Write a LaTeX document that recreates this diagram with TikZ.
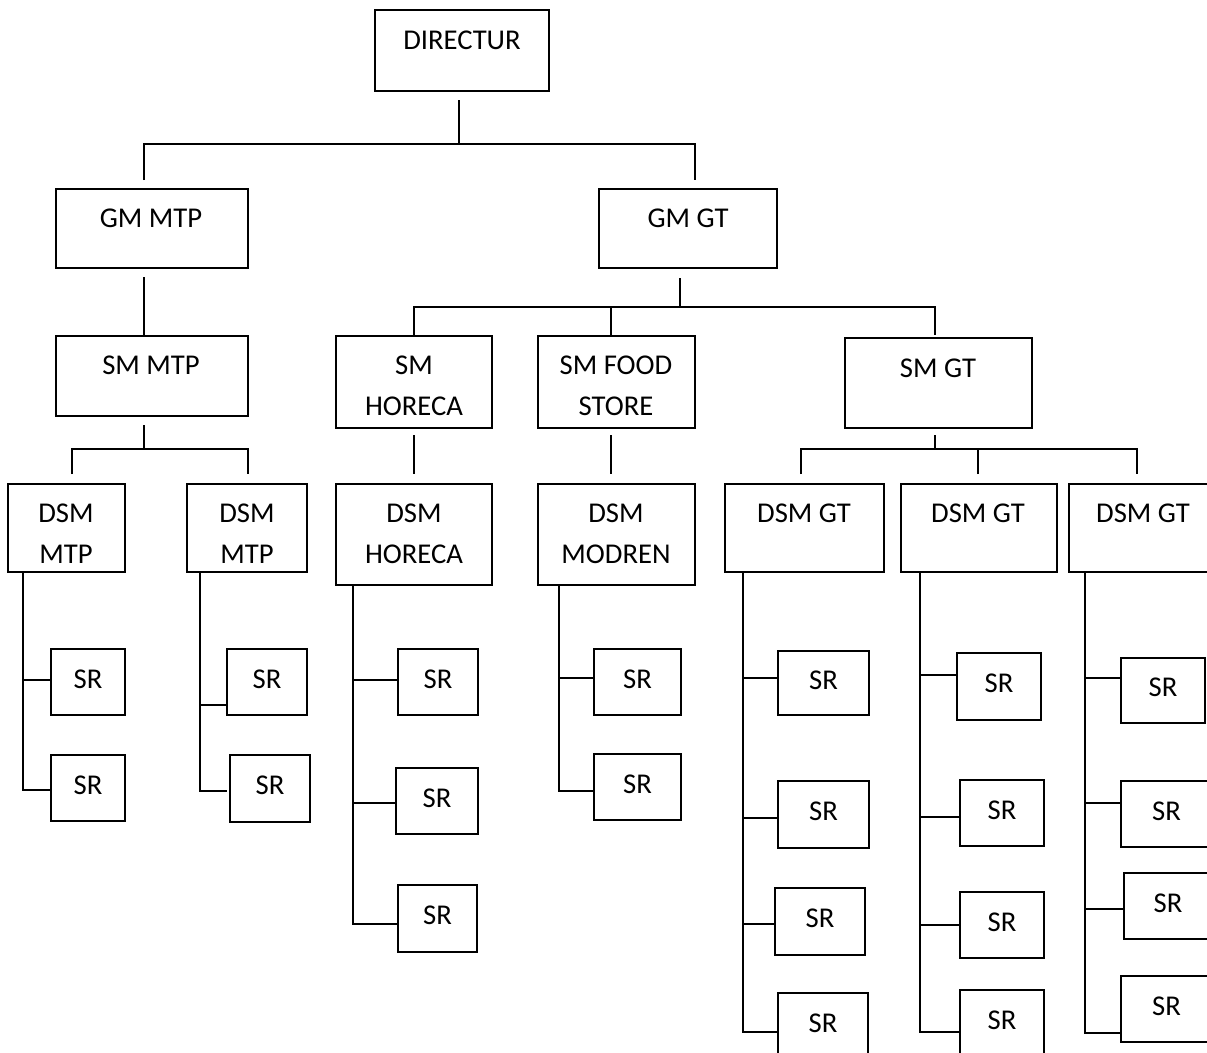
\documentclass[tikz,border=0pt]{standalone}
\usepackage{fontspec}
\setmainfont{Carlito}
\usetikzlibrary{calc}
\newcommand\orgbox[5]{\node[box, minimum width={(#4-#2)*0.75pt}, minimum height={(#5-#3)*0.75pt}] (#1) at ({(#2+#4)/2},{(#3+#5)/2}) {};}
\newcommand\srbox[5]{\orgbox{#1}{#2}{#3}{#4}{#5}\node[lbl] (#1-t) at ($(#1.center)+(0,-3)$) {SR};}
\begin{document}
\begin{tikzpicture}[x=0.75pt,y=-0.75pt,
  line width=1.6pt, line join=miter,
  box/.style={draw, line width=1.6pt, inner sep=0pt, outer sep=0pt, fill=white},
  lbl/.style={inner sep=0pt, font=\fontsize{21.5pt}{31pt}\selectfont, align=center}]
\fill[white] (0,0) rectangle (1207,1053);
\clip (0,0) rectangle (1207,1053);

% ---- boxes ----
\orgbox{dir}{375}{10}{549}{91}
\orgbox{gmmtp}{56}{189}{248}{268}
\orgbox{gmgt}{599}{189}{777}{268}
\orgbox{smmtp}{56}{336}{248}{416}
\orgbox{smhor}{336}{336}{492}{428}
\orgbox{smfood}{538}{336}{695}{428}
\orgbox{smgt}{845}{338}{1032}{428}
\orgbox{dsma}{8}{484}{125}{572}
\orgbox{dsmb}{187}{484}{307}{572}
\orgbox{dsmhor}{336}{484}{492}{585}
\orgbox{dsmmod}{538}{484}{695}{585}
\orgbox{dsmgta}{725}{484}{884}{572}
\orgbox{dsmgtb}{901}{484}{1057}{572}
\orgbox{dsmgtc}{1069}{484}{1217}{572}

% ---- labels ----
\node[lbl] (dir-t) at (462,40) {DIRECTUR};
\node[lbl] (gmmtp-t) at (151,218) {GM MTP};
\node[lbl] (gmgt-t) at (688,218) {GM GT};
\node[lbl] (smmtp-t) at (151,365) {SM MTP};
\node[lbl] (smhor-t) at (414,386) {SM\\HORECA};
\node[lbl] (smfood-t) at (616,386) {SM FOOD\\STORE};
\node[lbl] (smgt-t) at (938,368) {SM GT};
\node[lbl] (dsma-t) at (66,533.5) {DSM\\MTP};
\node[lbl] (dsmb-t) at (247,533.5) {DSM\\MTP};
\node[lbl] (dsmhor-t) at (414,534) {DSM\\HORECA};
\node[lbl] (dsmmod-t) at (616,534) {DSM\\MODREN};
\node[lbl] (dsmgta-t) at (804,513) {DSM GT};
\node[lbl] (dsmgtb-t) at (978,513) {DSM GT};
\node[lbl] (dsmgtc-t) at (1143,513) {DSM GT};

% ---- SR boxes ----
\srbox{sraa}{51}{649}{125}{715}
\srbox{srab}{51}{755}{125}{821}
\srbox{srba}{227}{649}{307}{715}
\srbox{srbb}{230}{755}{310}{822}
\srbox{srha}{398}{649}{478}{715}
\srbox{srhb}{396}{768}{478}{834}
\srbox{srhc}{398}{885}{477}{952}
\srbox{srma}{594}{649}{681}{715}
\srbox{srmb}{594}{754}{681}{820}
\srbox{srga}{778}{651}{869}{715}
\srbox{srgb}{778}{781}{869}{848}
\srbox{srgc}{775}{888}{865}{955}
\srbox{srgd}{778}{993}{868}{1060}
\srbox{srgba}{957}{653}{1041}{720}
\srbox{srgbb}{960}{780}{1044}{846}
\srbox{srgbc}{960}{892}{1044}{958}
\srbox{srgbd}{960}{990}{1044}{1057}
\srbox{srgca}{1121}{658}{1205}{723}
\srbox{srgcb}{1121}{781}{1212}{847}
\srbox{srgcc}{1124}{873}{1212}{939}
\srbox{srgcd}{1121}{976}{1212}{1042}

% ---- tree connectors ----
\draw ($(dir.south)+(-3,9)$) -- ++(0,44) coordinate (j0);
\draw ($(gmmtp.north)+(-8,-9)$) |- (j0) -| ($(gmgt.north)+(7,-9)$);
\draw ($(gmmtp.south)+(-8,9)$) -- ($(smmtp.north)+(-8,-1)$);
\draw ($(smmtp.south)+(-8,9)$) -- ++(0,24) coordinate (j1);
\draw ($(dsma.north)+(5.5,-10)$) |- (j1) -| ($(dsmb.north)+(1,-10)$);
\draw ($(gmgt.south)+(-8,10)$) -- ++(0,29) coordinate (j2);
\draw ($(smhor.north)+(0,-1)$) |- (j2) -| ($(smgt.north)+(-3.5,-3)$);
\draw ($(smfood.north)+(-5.5,-1)$) -- ++(0,-28);
\draw ($(smhor.south)+(0,7)$) -- ($(dsmhor.north)+(0,-10)$);
\draw ($(smfood.south)+(-5.5,7)$) -- ($(dsmmod.north)+(-5.5,-10)$);
\draw ($(smgt.south)+(-3.5,7)$) -- ++(0,14) coordinate (j3);
\draw ($(dsmgta.north)+(-3.5,-10)$) |- (j3) -| ($(dsmgtc.north)+(-6,-10)$);
\draw ($(dsmgtb.north)+(-1,-10)$) -- ++(0,-25);

% ---- rakes ----
\draw ($(dsma.south west)+(15,0)$) coordinate (ta) -- (ta |- 0,790) -- (srab.west |- 0,790);
\draw (ta |- 0,680) -- (sraa.west |- 0,680);

\draw ($(dsmb.south west)+(13,0)$) coordinate (tb) -- (tb |- 0,791) -- (srba.west |- 0,791);
\draw (tb |- 0,705) -- (srba.west |- 0,705);

\draw ($(dsmhor.south west)+(17,0)$) coordinate (th) -- (th |- 0,924) -- (srhc.west |- 0,924);
\draw (th |- 0,680) -- (srha.west |- 0,680);
\draw (th |- 0,803) -- (srhb.west |- 0,803);

\draw ($(dsmmod.south west)+(21,0)$) coordinate (tm) -- (tm |- 0,791) -- (srmb.west |- 0,791);
\draw (tm |- 0,678) -- (srma.west |- 0,678);

\draw ($(dsmgta.south west)+(18,0)$) coordinate (tga) -- (tga |- 0,1032) -- (srgd.west |- 0,1032);
\draw (tga |- 0,678) -- (srga.west |- 0,678);
\draw (tga |- 0,818) -- (srgb.west |- 0,818);
\draw (tga |- 0,924) -- (srgc.west |- 0,924);

\draw ($(dsmgtb.south west)+(19,0)$) coordinate (tgb) -- (tgb |- 0,1032) -- (srgbd.west |- 0,1032);
\draw (tgb |- 0,675) -- (srgba.west |- 0,675);
\draw (tgb |- 0,817) -- (srgbb.west |- 0,817);
\draw (tgb |- 0,925) -- (srgbc.west |- 0,925);

\draw ($(dsmgtc.south west)+(16,0)$) coordinate (tgc) -- (tgc |- 0,1033) -- (srgcd.west |- 0,1033);
\draw (tgc |- 0,678) -- (srgca.west |- 0,678);
\draw (tgc |- 0,803) -- (srgcb.west |- 0,803);
\draw (tgc |- 0,909) -- (srgcc.west |- 0,909);
\end{tikzpicture}
\end{document}
